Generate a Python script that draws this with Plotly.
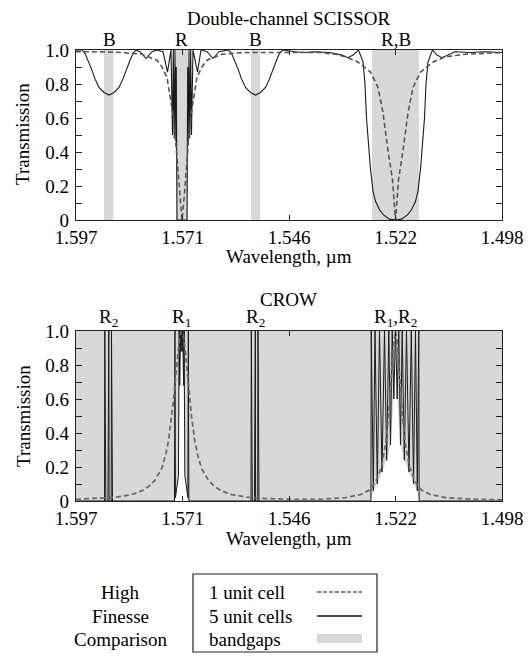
import plotly.graph_objects as go

# ---------------- data (x = relative frequency position along the axis, 0..1) ----------------
tick_pos = [0, 0.25, 0.5, 0.75, 1.0]
tick_labels = ["1.597", "1.571", "1.546", "1.522", "1.498"]
y_ticks = [0, 0.2, 0.4, 0.6, 0.8, 1.0]
y_labels = ["0", "0.2", "0.4", "0.6", "0.8", "1.0"]

# Double-channel SCISSOR: bandgap intervals
scissor_bandgaps = [(0.0657, 0.0880), (0.2347, 0.2629), (0.4108, 0.4319), (0.6948, 0.8052)]
scissor_labels = [(0.0775, "B"), (0.2488, "R"), (0.4214, "B"), (0.7500, "R,B")]

# SCISSOR, 1 unit cell (dashed)
scissor_1cell = [
    (0, 0.99), (0.0563, 0.99), (0.1080, 0.985), (0.1549, 0.975), (0.1901, 0.94), (0.2019, 0.90),
    (0.2136, 0.84), (0.2218, 0.72), (0.2277, 0.62), (0.2336, 0.47), (0.2394, 0.28), (0.2434, 0.14),
    (0.2488, 0.0), (0.2542, 0.14), (0.2582, 0.28), (0.2641, 0.47), (0.2700, 0.62), (0.2758, 0.72),
    (0.2840, 0.84), (0.2958, 0.90), (0.3075, 0.94), (0.3427, 0.975), (0.3897, 0.985), (0.4789, 0.985),
    (0.5728, 0.985), (0.6092, 0.975), (0.6326, 0.96), (0.6615, 0.93), (0.6913, 0.87), (0.7089, 0.78),
    (0.7207, 0.63), (0.7312, 0.43), (0.7430, 0.235), (0.7500, 0.0), (0.7570, 0.235), (0.7688, 0.43),
    (0.7793, 0.63), (0.7911, 0.78), (0.8087, 0.87), (0.8385, 0.93), (0.8674, 0.96), (0.9143, 0.975),
    (1.0, 0.985),
]

# SCISSOR, 5 unit cells (solid)
scissor_5cell = [
    (0, 1.0), (0.0094, 1.0), (0.0141, 1.0), (0.0211, 0.98), (0.0282, 0.94), (0.0376, 0.88),
    (0.0446, 0.83), (0.0540, 0.78), (0.0657, 0.75), (0.0775, 0.735), (0.0892, 0.75), (0.1009, 0.78),
    (0.1103, 0.83), (0.1174, 0.88), (0.1268, 0.94), (0.1338, 0.98), (0.1408, 1.0), (0.1502, 0.99),
    (0.1643, 0.95), (0.1784, 0.99), (0.1901, 1.0), (0.2042, 0.99), (0.2148, 0.87), (0.2230, 1.0),
    (0.2265, 0.50), (0.2284, 1.0), (0.2305, 0.48), (0.2324, 1.0), (0.2343, 0.46), (0.2354, 0.90),
    (0.2371, 0.0), (0.2606, 0.0), (0.2622, 0.90), (0.2634, 0.46), (0.2653, 1.0), (0.2671, 0.48),
    (0.2692, 1.0), (0.2711, 0.50), (0.2746, 1.0), (0.2852, 0.87), (0.2934, 1.0), (0.3075, 0.99),
    (0.3216, 0.95), (0.3357, 0.99), (0.3521, 1.0), (0.3580, 1.0), (0.3650, 0.98), (0.3721, 0.94),
    (0.3815, 0.88), (0.3885, 0.83), (0.3979, 0.78), (0.4096, 0.75), (0.4214, 0.735), (0.4331, 0.75),
    (0.4448, 0.78), (0.4542, 0.83), (0.4613, 0.88), (0.4707, 0.94), (0.4777, 0.98), (0.4847, 1.0),
    (0.5141, 0.99), (0.5376, 0.985), (0.5610, 0.99), (0.5962, 0.985), (0.6244, 0.97), (0.6385, 0.955),
    (0.6502, 0.97), (0.6631, 1.0), (0.6737, 0.93), (0.6784, 0.80), (0.6819, 0.60), (0.6866, 0.45),
    (0.6913, 0.30), (0.6972, 0.17), (0.7031, 0.11), (0.7124, 0.06), (0.7218, 0.03), (0.7359, 0.005),
    (0.7500, 0.0), (0.7641, 0.005), (0.7782, 0.03), (0.7876, 0.06), (0.7970, 0.11), (0.8028, 0.17),
    (0.8087, 0.30), (0.8134, 0.45), (0.8181, 0.60), (0.8216, 0.80), (0.8263, 0.93), (0.8369, 1.0),
    (0.8474, 0.97), (0.8592, 0.955), (0.8732, 0.97), (0.8897, 0.99), (0.9249, 0.985), (0.9601, 0.99),
    (1.0, 0.985),
]

# CROW: passbands (white, outside the bandgaps)
crow_labels = [(0.0763, "R<sub>2</sub>"), (0.2480, "R<sub>1</sub>"), (0.4202, "R<sub>2</sub>"),
               (0.7500, "R<sub>1</sub>,R<sub>2</sub>")]
crow_pass_r1 = [(0.2334, 0), (0.2346, 0.02), (0.2405, 0.15), (0.2435, 0.68), (0.2466, 0.88),
                (0.2480, 0.97), (0.2494, 0.88), (0.2525, 0.68), (0.2555, 0.15), (0.2614, 0.02),
                (0.2626, 0)]
crow_pass_r1r2 = [(0.6925, 0), (0.6979, 0.06), (0.7073, 0.10), (0.7183, 0.17), (0.7293, 0.24),
                  (0.7383, 0.33), (0.7460, 0.60), (0.7500, 0.97), (0.7540, 0.60), (0.7617, 0.33),
                  (0.7707, 0.24), (0.7817, 0.17), (0.7923, 0.10), (0.8012, 0.06), (0.8052, 0)]

# CROW, 1 unit cell (dashed)
crow_1cell = [
    (0, 0.01), (0.0555, 0.015), (0.0931, 0.022), (0.1306, 0.038), (0.1541, 0.059), (0.1705, 0.085),
    (0.1846, 0.12), (0.2011, 0.19), (0.2104, 0.27), (0.2175, 0.36), (0.2245, 0.49), (0.2292, 0.60),
    (0.2339, 0.73), (0.2386, 0.86), (0.2433, 0.96), (0.2480, 1.0), (0.2527, 0.96), (0.2574, 0.86),
    (0.2621, 0.73), (0.2668, 0.60), (0.2715, 0.49), (0.2785, 0.36), (0.2856, 0.27), (0.2949, 0.19),
    (0.3114, 0.12), (0.3255, 0.085), (0.3419, 0.059), (0.3654, 0.038), (0.4006, 0.023), (0.4475, 0.014),
    (0.5062, 0.01), (0.5739, 0.01), (0.6326, 0.02), (0.6678, 0.038), (0.6890, 0.065), (0.7031, 0.11),
    (0.7171, 0.20), (0.7265, 0.33), (0.7336, 0.50), (0.7406, 0.75), (0.7453, 0.92), (0.7500, 1.0),
    (0.7547, 0.92), (0.7594, 0.75), (0.7664, 0.50), (0.7735, 0.33), (0.7829, 0.20), (0.7969, 0.11),
    (0.8110, 0.065), (0.8322, 0.038), (0.8674, 0.02), (0.9261, 0.011), (1.0, 0.007),
]

# CROW, 5 unit cells (solid)
crow_5cell = [
    (0, 0),
    (0.0669, 0), (0.0676, 1), (0.0683, 0), (0.0686, 0), (0.0693, 1), (0.0700, 0), (0.0749, 0),
    (0.0756, 1), (0.0763, 0), (0.0770, 1), (0.0777, 0), (0.0826, 0), (0.0833, 1), (0.0840, 0),
    (0.0843, 0), (0.0850, 1), (0.0857, 0),
    (0.2311, 0), (0.2323, 1), (0.2334, 0.02), (0.2405, 0.15), (0.2421, 1), (0.2435, 0.68),
    (0.2452, 1), (0.2466, 0.88), (0.2480, 1), (0.2494, 0.88), (0.2508, 1), (0.2525, 0.68),
    (0.2539, 1), (0.2555, 0.15), (0.2626, 0.02), (0.2637, 1), (0.2649, 0),
    (0.4108, 0), (0.4115, 1), (0.4122, 0), (0.4125, 0), (0.4132, 1), (0.4139, 0), (0.4188, 0),
    (0.4195, 1), (0.4202, 0), (0.4209, 1), (0.4216, 0), (0.4265, 0), (0.4272, 1), (0.4279, 0),
    (0.4282, 0), (0.4289, 1), (0.4296, 0),
    (0.6923, 0), (0.6930, 1), (0.6979, 0.06), (0.7019, 1), (0.7073, 0.10), (0.7124, 1),
    (0.7183, 0.17), (0.7242, 1), (0.7293, 0.24), (0.7343, 1), (0.7383, 0.33), (0.7423, 1),
    (0.7460, 0.60), (0.7500, 1), (0.7540, 0.60), (0.7577, 1), (0.7617, 0.33), (0.7657, 1),
    (0.7707, 0.24), (0.7758, 1), (0.7817, 0.17), (0.7871, 1), (0.7923, 0.10), (0.7969, 1),
    (0.8012, 0.06), (0.8047, 1), (0.8054, 0),
    (1.0, 0),
]

legend_left = ["High", "Finesse", "Comparison"]
legend_items = ["1 unit cell", "5 unit cells", "bandgaps"]

# ---------------- styling ----------------
W, H = 529, 656
FONT = "Liberation Serif"
FS = 19
GAP = "#d8d8d8"
AX = "#222222"


def px(x):
    return x / W


def py(y):
    return 1 - y / H


def xy(pairs):
    return [p[0] for p in pairs], [p[1] for p in pairs]


fig = go.Figure()

# bandgaps
for a, b in scissor_bandgaps:
    fig.add_shape(type="rect", xref="x", yref="y", x0=a, x1=b, y0=0, y1=1,
                  fillcolor=GAP, line_width=0, layer="below")
fig.add_shape(type="rect", xref="x2", yref="y2", x0=0, x1=1, y0=0, y1=1,
              fillcolor=GAP, line_width=0, layer="below")

# SCISSOR curves
x, y = xy(scissor_5cell)
fig.add_trace(go.Scatter(x=x, y=y, mode="lines", line=dict(color="#1a1a1a", width=1.1),
                         xaxis="x", yaxis="y", showlegend=False, hoverinfo="skip"))
x, y = xy(scissor_1cell)
fig.add_trace(go.Scatter(x=x, y=y, mode="lines",
                         line=dict(color="#555555", width=1.6, dash="5px,3px"),
                         xaxis="x", yaxis="y", showlegend=False, hoverinfo="skip"))

# CROW passbands
for band in (crow_pass_r1, crow_pass_r1r2):
    x, y = xy(band)
    fig.add_trace(go.Scatter(x=x, y=y, mode="lines", fill="toself", fillcolor="white",
                             line=dict(width=0, color="white"), xaxis="x2", yaxis="y2",
                             showlegend=False, hoverinfo="skip"))
x, y = xy(crow_5cell)
fig.add_trace(go.Scatter(x=x, y=y, mode="lines", line=dict(color="#1a1a1a", width=1.0),
                         xaxis="x2", yaxis="y2", showlegend=False, hoverinfo="skip"))
x, y = xy(crow_1cell)
fig.add_trace(go.Scatter(x=x, y=y, mode="lines",
                         line=dict(color="#6a6a6a", width=1.8, dash="5px,3px"),
                         xaxis="x2", yaxis="y2", showlegend=False, hoverinfo="skip"))

xdom = [px(76), px(502)]
common_x = dict(range=[0, 1], tickvals=tick_pos, ticktext=tick_labels, ticks="inside", ticklen=5,
                tickcolor=AX, showline=True, linecolor=AX, linewidth=1.2, mirror="ticks",
                showgrid=False, zeroline=False, tickfont=dict(family=FONT, size=FS, color="black"),
                fixedrange=True, automargin=False)
common_y = dict(range=[0, 1], tickvals=y_ticks, ticktext=y_labels, ticks="inside", ticklen=6,
                tickcolor=AX, showline=True, linecolor=AX, linewidth=1.2, mirror="ticks",
                showgrid=False, zeroline=False, tickfont=dict(family=FONT, size=FS, color="black"),
                minor=dict(dtick=0.1, tick0=0, ticks="inside", ticklen=6, tickcolor=AX),
                ticklabelstandoff=2, fixedrange=True, automargin=False)

fig.update_layout(
    template="none",
    width=W, height=H, margin=dict(l=0, r=0, t=0, b=0, pad=0), autosize=False,
    paper_bgcolor="white", plot_bgcolor="white", showlegend=False,
    font=dict(family=FONT, size=FS, color="black"),
    xaxis=dict(domain=xdom, anchor="y", **common_x),
    yaxis=dict(domain=[py(220), py(50)], anchor="x", **common_y),
    xaxis2=dict(domain=xdom, anchor="y2", **common_x),
    yaxis2=dict(domain=[py(501), py(331)], anchor="x2", **common_y),
)


def text(x, y, s, xanchor="center", angle=0, xref="paper"):
    fig.add_annotation(x=x, y=y, xref=xref, yref="paper", text=s, showarrow=False,
                       xanchor=xanchor, yanchor="middle", textangle=angle,
                       font=dict(family=FONT, size=FS, color="black"))


# titles and labels
text(px(289), py(18), "Double-channel SCISSOR")
for xv, s in scissor_labels:
    fig.add_annotation(x=xv, y=py(39), xref="x", yref="paper", text=s, showarrow=False,
                       yanchor="middle", font=dict(family=FONT, size=FS, color="black"))
text(px(289), py(256), "Wavelength, µm")
text(px(23), py(134), "Transmission", angle=-90)

text(px(288), py(299), "CROW")
for xv, s in crow_labels:
    fig.add_annotation(x=xv, y=py(318), xref="x2", yref="paper", text=s, showarrow=False,
                       yanchor="middle", font=dict(family=FONT, size=FS, color="black"))
text(px(289), py(538), "Wavelength, µm")
text(px(23), py(416), "Transmission", angle=-90)

# legend block
rows = [592, 616, 639]
for s, r in zip(legend_left, rows):
    text(px(120), py(r), s)
for s, r in zip(legend_items, rows):
    text(px(207), py(r), s, xanchor="left")
fig.add_shape(type="rect", xref="paper", yref="paper", x0=px(193), x1=px(377), y0=py(652), y1=py(574),
              line=dict(color=AX, width=1.2), fillcolor="rgba(0,0,0,0)")
fig.add_shape(type="line", xref="paper", yref="paper", x0=px(317), x1=px(362), y0=py(592), y1=py(592),
              line=dict(color="#111111", width=1.2, dash="4px,2px"))
fig.add_shape(type="line", xref="paper", yref="paper", x0=px(317), x1=px(362), y0=py(616), y1=py(616),
              line=dict(color="#111111", width=1.4))
fig.add_shape(type="rect", xref="paper", yref="paper", x0=px(317), x1=px(362), y0=py(643), y1=py(634),
              line_width=0, fillcolor=GAP)

fig.write_html("out.html")
